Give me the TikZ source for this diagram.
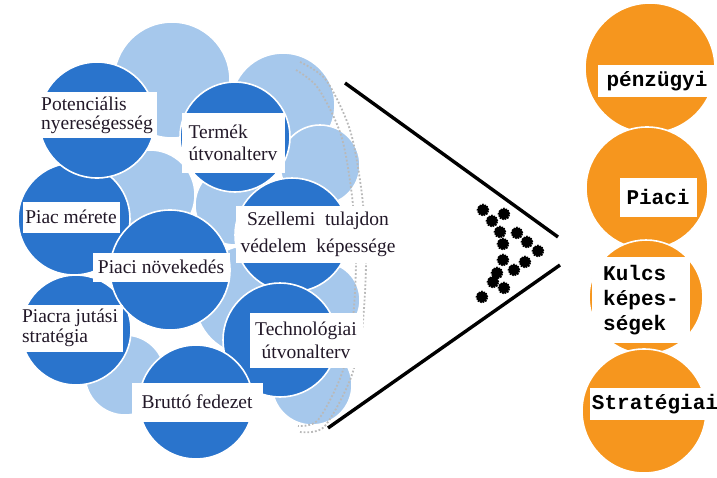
\documentclass[tikz,border=0pt]{standalone}
\usepackage{fontspec}
\setmainfont{Liberation Serif}
\setmonofont{Liberation Mono}
\usetikzlibrary{positioning}

\definecolor{bubbledark}{RGB}{42,116,204}
\definecolor{bubblelight}{RGB}{166,200,236}
\definecolor{goalorange}{RGB}{246,150,30}
\definecolor{inkdark}{RGB}{34,24,40}

\begin{document}
\begin{tikzpicture}[x=1pt, y=-1pt,
		bubble/.style = {circle, draw=white, line width=1.6pt, inner sep=0pt,
										 fill=bubbledark, minimum size=#1pt},
			haze/.style = {bubble=#1, fill=bubblelight},
			goal/.style = {bubble=#1, fill=goalorange},
			 tag/.style = {fill=white, inner sep=2pt, text=inkdark,
										 font=\fontsize{19.5}{19}\selectfont},
	 goaltag/.style = {fill=white, inner sep=2pt,
										 font=\ttfamily\bfseries\fontsize{21}{25}\selectfont},
		 grain/.style = {circle, fill=black, draw=black, densely dotted,
										 line width=1.6pt, inner sep=0pt, minimum size=11pt},
			 rim/.style = {draw=gray!55, dotted, line width=1.8pt},
		 wedge/.style = {draw=black, line width=3.4pt}]
\path[use as bounding box] (0,0) rectangle (717,477);

% light background bubbles
\node [haze=116] (H-1) at (172,80)  {};
\node [haze=104] (H-2) at (283,105) {};
\node [haze=80]  (H-3) at (320,165) {};
\node [haze=90]  (H-4) at (150,195) {};
\node [haze=80]  (H-5) at (235,205) {};
\node [haze=110] (H-6) at (250,300) {};
\node [haze=76]  (H-7) at (322,300) {};
\node [haze=80]  (H-8) at (312,385) {};
\node [haze=80]  (H-9) at (125,375) {};
%
\draw [rim] plot [smooth] coordinates {(300,62) (326,80) (350,130) (362,195)
	(366,260) (362,330) (350,380) (324,427) (300,432)};
\draw [rim] plot [smooth] coordinates {(296,70) (318,88) (341,135) (352,196)
	(356,260) (352,328) (341,376) (318,420) (298,426)};

% dark bubbles
\node [bubble=112] (B-meret)  at (74,219)  {};
\node [bubble=116] (B-pot)    at (97,120)  {};
\node [bubble=110] (B-termek) at (235,137) {};
\node [bubble=114] (B-szell)  at (292,235) {};
\node [bubble=110] (B-jutas)  at (76,330)  {};
\node [bubble=114] (B-techn)  at (280,340) {};
\node [bubble=120] (B-novek)  at (170,270) {};
\node [bubble=114] (B-brutto) at (196,402) {};

% captions
\node [tag, align=left, minimum width=120pt, minimum height=46pt]
	(T-pot) at (97,115) {Potenciális\\nyereségesség};
\node [tag, align=left, minimum width=103pt, minimum height=60pt]
	(T-termek) at (233,143) {Termék\\[3pt]útvonalterv};
\node [tag, minimum width=97pt, minimum height=31pt]
	(T-meret) at (71,217) {Piac mérete};
\node [tag, align=center, minimum width=165pt, minimum height=57pt]
	(T-szell) at (318,234) {Szellemi\ \ tulajdon\\[8pt]védelem\ \ képessége};
\node [tag, minimum width=137pt, minimum height=29pt]
	(T-novek) at (161,267) {Piaci növekedés};
\node [tag, align=left, minimum width=105pt, minimum height=47pt]
	(T-jutas) at (70,328) {Piacra jutási\\[1pt]stratégia};
\node [tag, align=center, minimum width=113pt, minimum height=55pt]
	(T-techn) at (306,340) {Technológiai\\[4pt]útvonalterv};
\node [tag, minimum width=131pt, minimum height=39pt]
	(T-brutto) at (197,402) {Bruttó fedezet};

% funnel
\coordinate (W-1) at (345,83);
\coordinate (W-2) at (558,237);
\coordinate (W-3) at (560,265);
\coordinate (W-4) at (328,428);
\draw [wedge] (W-1) -- (W-2);
\draw [wedge] (W-3) -- (W-4);
\foreach \x/\y [count=\i] in {483/210, 492/221, 504/214, 500/232, 517/233,
		503/244, 527/242, 538/251, 503/260, 525/262, 514/270, 497/273,
		493/282, 504/288, 482/297}
	\node [grain] (g-\i) at (\x,\y) {};

% outcome bubbles
\node [goal=130] (G-1) at (650,68)  {};
\node [goal=122] (G-2) at (647,188) {};
\node [goal=114] (G-3) at (646,297) {};
\node [goal=124] (G-4) at (644,411) {};
%
\node [goaltag, minimum width=119pt, minimum height=32pt]
	(G-penz) at (657,81) {pénzügyi};
\node [goaltag, minimum width=77pt, minimum height=39pt]
	(G-piaci) at (658,197) {Piaci};
\node [goaltag, align=left, minimum width=98pt, minimum height=86pt]
	(G-kulcs) at (641,300) {Kulcs\\képes-\\ségek};
\node [goaltag, minimum width=124pt, minimum height=32pt]
	(G-strat) at (655,404) {Stratégiai};
\end{tikzpicture}
\end{document}
